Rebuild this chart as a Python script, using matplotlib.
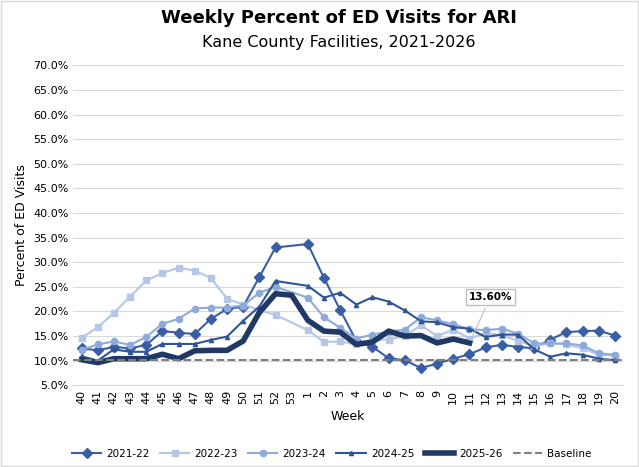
import numpy as np
import matplotlib.pyplot as plt

weeks = [str(w) for w in list(range(40, 54)) + list(range(1, 21))]
n = np.nan
s2122 = [12.5, 12.1, 12.8, 12.5, 13.2, 16.0, 15.7, 15.4, 18.5, 20.5, 21.0, 27.0, 33.0, n, 33.7, 26.8, 20.3, 14.0, 12.8, 10.5, 10.1, 8.5, 9.4, 10.4, 11.3, 12.7, 13.2, 12.8, 12.5, 14.3, 15.8, 16.0, 16.1, 15.1]
s2223 = [14.6, 16.8, 19.7, 23.0, 26.3, 27.8, 28.9, 28.3, 26.8, 22.6, 21.4, 20.3, 19.3, n, 16.2, 13.8, 13.9, 13.3, 14.2, 14.3, 15.0, 17.2, 15.0, 16.3, 14.5, 15.6, 15.2, 14.0, 13.0, 13.5, 13.3, 12.5, 11.2, 11.0]
s2324 = [12.2, 13.3, 13.9, 13.2, 14.8, 17.5, 18.5, 20.6, 20.8, 20.8, 21.2, 23.8, 25.0, n, 22.8, 18.8, 16.7, 14.5, 15.3, 15.9, 16.3, 18.8, 18.2, 17.4, 16.4, 16.2, 16.5, 15.5, 13.5, 13.5, 13.5, 13.1, 11.5, 11.2]
s2425 = [10.9, 10.0, 12.3, 11.8, 11.8, 13.4, 13.4, 13.4, 14.2, 14.9, 18.1, 21.0, 26.2, n, 25.2, 22.8, 23.8, 21.4, 22.9, 22.0, 20.2, 18.0, 17.8, 16.8, 16.5, 14.8, 15.3, 15.3, 12.3, 10.8, 11.5, 11.2, 10.4, 10.1]
s2526 = [10.2, 9.6, 10.4, 10.4, 10.4, 11.3, 10.4, 12.0, 12.1, 12.1, 14.0, 19.8, 23.6, 23.3, 18.2, 16.0, 15.8, 13.3, 13.8, 16.0, 15.0, 15.1, 13.6, 14.4, 13.6]
baseline = 10.2

x = np.arange(len(weeks))
fig, ax = plt.subplots(figsize=(6.39, 4.67), dpi=100)
fig.subplots_adjust(left=0.115, right=0.975, top=0.86, bottom=0.175)

def plot_series(vals, label, color, marker, ms, lw):
    v = np.array(vals, dtype=float)
    xx = x[:len(v)]
    ok = ~np.isnan(v)
    ax.plot(xx[ok], v[ok], color=color, marker=marker, markersize=ms, lw=lw, label=label)

plot_series(s2122, '2021-22', '#3a5ea6', 'D', 5, 1.5)
plot_series(s2223, '2022-23', '#b4c7e7', 's', 4, 1.5)
plot_series(s2324, '2023-24', '#8eaadb', 'o', 4.5, 1.5)
plot_series(s2425, '2024-25', '#2f5597', '^', 3, 1.5)
plot_series(s2526, '2025-26', '#1f3864', None, 0, 4)
ax.axhline(baseline, color='#7f7f7f', ls='--', lw=1.5, label='Baseline')

ax.annotate('13.60%', xy=(len(s2526) - 1, s2526[-1]), xytext=(len(s2526) + 0.3, 22.3),
            ha='center', fontsize=7.5, fontweight='bold',
            bbox=dict(boxstyle='square,pad=0.3', fc='white', ec='#bfbfbf'),
            arrowprops=dict(arrowstyle='-', color='#bfbfbf', lw=0.8))

ax.set_ylim(5, 70)
ax.set_yticks(np.arange(5, 71, 5))
ax.set_yticklabels([f'{v:.1f}%' for v in np.arange(5, 71, 5)], fontsize=8)
ax.set_xlim(-0.5, len(weeks) - 0.5)
ax.set_xticks(x)
ax.set_xticklabels(weeks, rotation=90, fontsize=8)
ax.grid(axis='y', color='#d9d9d9', lw=0.8)
ax.set_axisbelow(True)
for sp in ['top', 'right', 'left']:
    ax.spines[sp].set_visible(False)
ax.spines['bottom'].set_color('#d9d9d9')
ax.tick_params(length=0)
ax.set_xlabel('Week', fontsize=9)
ax.set_ylabel('Percent of ED Visits', fontsize=9)

fig.text(0.53, 0.95, 'Weekly Percent of ED Visits for ARI', ha='center', fontsize=13, fontweight='bold')
fig.text(0.53, 0.9, 'Kane County Facilities, 2021-2026', ha='center', fontsize=11.5)
ax.legend(loc='upper center', bbox_to_anchor=(0.47, -0.17), ncol=6, frameon=False, fontsize=7.5,
          handlelength=2.8, columnspacing=1.0, handletextpad=0.5)
fig.patches.append(plt.Rectangle((0.002, 0.002), 0.996, 0.996, transform=fig.transFigure,
                                 fill=False, ec='#d9d9d9', lw=1))
fig.savefig('out.png', dpi=100)
